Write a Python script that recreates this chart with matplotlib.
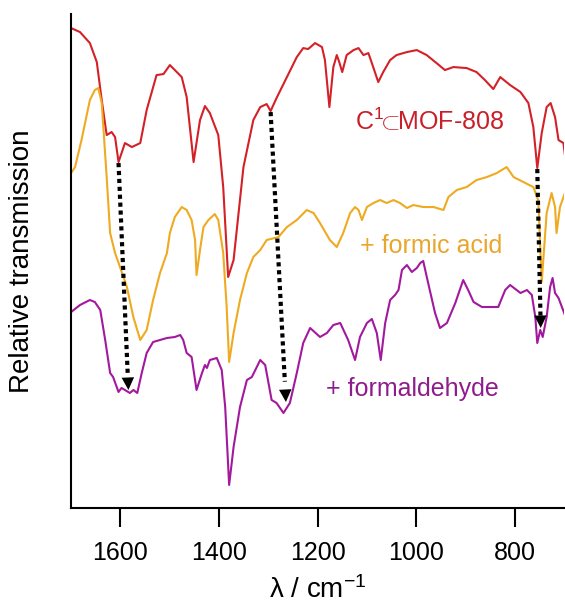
import numpy as np
import matplotlib
matplotlib.use("Agg")
import matplotlib.pyplot as plt
from matplotlib import rcParams

rcParams["font.family"] = ["Liberation Sans", "DejaVu Sans"]
rcParams["mathtext.fontset"] = "custom"
rcParams["mathtext.rm"] = "Liberation Sans"
rcParams["mathtext.it"] = "Liberation Sans"

# wavenumber (cm-1) and offset transmission (a.u.)
mof_wn = [1699, 1681, 1661, 1647, 1637, 1627, 1617, 1610, 1603, 1590, 1576, 1559,
          1546, 1526, 1512, 1499, 1489, 1475, 1465, 1451, 1438, 1428, 1418, 1401,
          1391, 1381, 1370, 1350, 1330, 1316, 1303, 1295, 1283, 1262, 1242, 1229,
          1219, 1205, 1191, 1185, 1176, 1168, 1161, 1156, 1150, 1141, 1127, 1117,
          1107, 1097, 1090, 1077, 1067, 1053, 1040, 1019, 999, 979, 959, 942, 925,
          898, 878, 861, 844, 830, 810, 789, 773, 763, 755, 746, 736, 728, 719,
          712, 702, 699]
mof_t = [480, 476, 465, 446, 408, 373, 376, 371, 346, 365, 361, 365,
         398, 433, 434, 443, 438, 431, 411, 346, 388, 402, 395, 373,
         321, 231, 248, 341, 388, 401, 404, 397, 410, 431, 451, 460,
         459, 465, 461, 448, 401, 441, 453, 446, 436, 453, 458, 460,
         453, 455, 445, 426, 436, 448, 453, 456, 458, 453, 445, 438, 441,
         440, 436, 428, 419, 431, 423, 416, 405, 381, 340, 375, 401, 405, 391,
         368, 365, 353]

fa_wn = [1699, 1691, 1678, 1661, 1651, 1644, 1637, 1627, 1620, 1610, 1600, 1586,
         1573, 1559, 1546, 1533, 1519, 1505, 1499, 1489, 1475, 1465, 1455, 1448,
         1445, 1438, 1431, 1421, 1408, 1401, 1391, 1384, 1379, 1370, 1357, 1343,
         1330, 1316, 1303, 1279, 1262, 1242, 1222, 1208, 1195, 1175, 1161, 1148,
         1134, 1124, 1117, 1110, 1100, 1087, 1073, 1060, 1046, 1033, 1019, 1006,
         986, 965, 945, 935, 918, 898, 878, 857, 837, 817, 803, 783, 763, 753,
         746, 736, 726, 719, 716, 709, 699]
fa_t = [335, 341, 368, 408, 418, 420, 405, 331, 275, 255, 241, 221,
        191, 168, 178, 208, 235, 255, 275, 291, 301, 298, 288, 268,
        233, 258, 281, 288, 294, 288, 255, 201, 146, 175, 208, 235,
        251, 258, 268, 271, 281, 288, 298, 295, 285, 268, 261, 275,
        295, 301, 298, 288, 301, 305, 308, 305, 308, 305, 300, 303,
        301, 301, 298, 311, 318, 321, 328, 331, 335, 341, 331, 326, 321, 308,
        226, 295, 315, 301, 275, 301, 315]

fh_wn = [1699, 1681, 1661, 1651, 1640, 1630, 1620, 1614, 1603, 1597, 1590, 1580,
         1573, 1565, 1556, 1546, 1533, 1519, 1505, 1489, 1478, 1472, 1465, 1455,
         1445, 1434, 1428, 1424, 1418, 1404, 1394, 1387, 1379, 1370, 1357, 1343,
         1333, 1316, 1306, 1293, 1283, 1269, 1256, 1242, 1229, 1215, 1195, 1181,
         1168, 1154, 1138, 1124, 1114, 1100, 1090, 1080, 1072, 1063, 1053, 1043,
         1036, 1029, 1019, 1009, 999, 992, 986, 976, 962, 952, 938, 921, 905,
         895, 884, 867, 851, 834, 820, 810, 789, 776, 766, 759, 755, 749, 744,
         736, 729, 724, 719, 712, 699]
fh_t = [196, 203, 208, 206, 198, 168, 135, 131, 116, 120, 118, 115,
        118, 115, 135, 155, 166, 168, 170, 171, 173, 168, 155, 151,
        118, 135, 143, 140, 148, 150, 138, 101, 23, 61, 101, 128,
        131, 148, 143, 108, 105, 95, 105, 135, 165, 180, 171, 175,
        183, 185, 168, 148, 171, 185, 189, 175, 148, 185, 208, 213,
        218, 238, 243, 236, 240, 245, 247, 225, 195, 180, 185, 205, 228,
        218, 206, 201, 201, 201, 218, 223, 215, 218, 213, 191, 165, 178, 171,
        191, 221, 230, 215, 210, 193]

# dotted arrows: (start wn, start t, end wn, end t)
arrows = [(1603, 345, 1583, 118), (1295, 396, 1264, 106), (755, 339, 748, 180)]

RED, GOLD, PURPLE = "#d42027", "#efaa22", "#a3199e"

fig = plt.figure(figsize=(5.65, 6.12), dpi=100)
ax = fig.add_axes([0.125, 0.170, 0.874, 0.807])

ax.plot(mof_wn, mof_t, color=RED, lw=1.5)
ax.plot(fa_wn, fa_t, color=GOLD, lw=1.5)
ax.plot(fh_wn, fh_t, color=PURPLE, lw=1.5)

for x0, y0, x1, y1 in arrows:
    # dotted shaft, stopping where the head begins
    f = 0.93
    ax.plot([x0, x0 + f * (x1 - x0)], [y0, y0 + f * (y1 - y0)], color="k",
            lw=3, linestyle=(0, (1, 0.9)), dash_capstyle="butt", zorder=4)
    ax.annotate("", xy=(x1, y1), xytext=(x0, y0),
                arrowprops=dict(arrowstyle="-|>,head_length=0.9,head_width=0.45",
                                color="k", lw=0, shrinkA=0, shrinkB=0), zorder=5)

ax.text(1124, 378, r"C$^{1}\!\!\subset\!\!$MOF-808", color="#c8202a", fontsize=18,
        ha="left", va="baseline")
ax.text(1114, 255, "+ formic acid", color="#e9a62c", fontsize=18,
        ha="left", va="baseline")
ax.text(1182, 112, "+ formaldehyde", color="#8e1c8c", fontsize=18,
        ha="left", va="baseline")

ax.set_xlim(1700, 700)
ax.set_ylim(0, 494)
ax.set_xticks([1600, 1400, 1200, 1000, 800])
ax.set_yticks([])
ax.spines["top"].set_visible(False)
ax.spines["right"].set_visible(False)
ax.spines["left"].set_linewidth(1.5)
ax.spines["bottom"].set_linewidth(1.5)
ax.tick_params(axis="x", direction="out", length=14, width=1.5, pad=10, labelsize=18)
ax.set_xlabel(r"λ / cm$^{-1}$", fontsize=20, labelpad=8)
ax.set_ylabel("Relative transmission", fontsize=20, labelpad=26)

fig.savefig("out.png", dpi=100)
